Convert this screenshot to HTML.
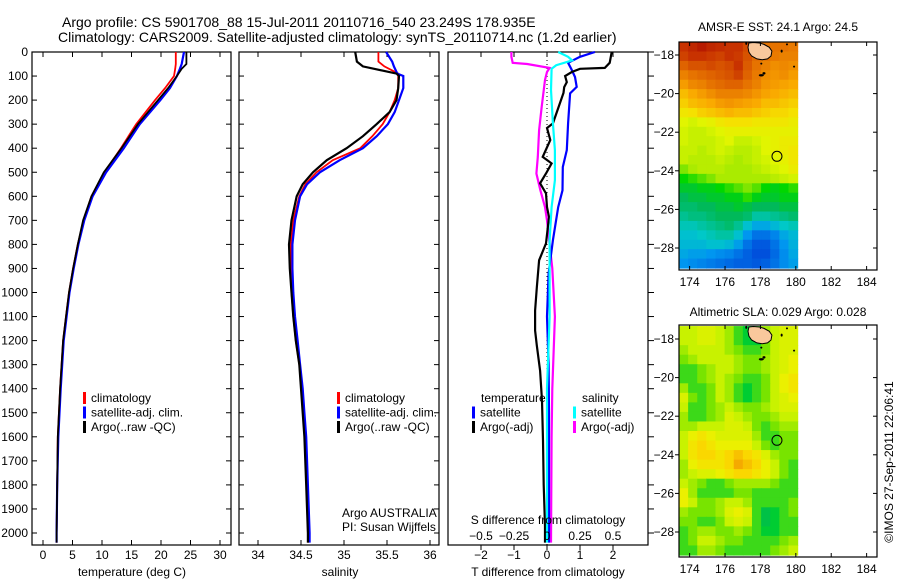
<!DOCTYPE html>
<html><head><meta charset="utf-8"><style>
html,body{margin:0;padding:0;background:#fff;}
svg{display:block;font-family:"Liberation Sans",sans-serif;}
text{font-family:"Liberation Sans",sans-serif;}
</style></head><body>
<svg id="c" width="900" height="580" viewBox="0 0 900 580" xmlns="http://www.w3.org/2000/svg">
<text x="62" y="27" font-size="14">Argo profile: CS 5901708_88 15-Jul-2011 20110716_540 23.249S 178.935E</text>
<text x="58" y="42" font-size="14">Climatology: CARS2009. Satellite-adjusted climatology: synTS_20110714.nc (1.2d earlier)</text>
</svg>
<script>
// ---------- data ----------
const tDepth=[0,50,70,100,150,200,300,400,500,600,700,800,900,1000,1100,1200,1400,1600,1800,2000,2040];
const tArgo=[24.3,24.3,23.5,22.7,21.2,19.5,16.1,13.3,10.3,8.2,6.8,5.9,5.1,4.4,3.9,3.4,2.9,2.5,2.4,2.3,2.3];
const tClim=[22.5,22.5,22.4,22.2,20.7,19.0,15.8,13.2,10.4,8.2,6.9,5.9,5.1,4.4,3.9,3.4,2.9,2.5,2.4,2.3,2.3];
const tSat=[23.9,23.5,23.2,22.7,21.5,19.9,16.4,13.7,10.7,8.4,7.0,6.0,5.2,4.5,4.0,3.5,3.0,2.6,2.4,2.3,2.3];
const sDepth=[0,40,60,90,100,150,200,250,300,350,400,450,500,550,600,700,800,900,1000,1100,1200,1300,1400,1500,1600,1800,2000,2040];
const sArgo=[35.13,35.15,35.22,35.61,35.64,35.63,35.61,35.53,35.38,35.22,35.03,34.80,34.64,34.52,34.45,34.39,34.36,34.37,34.39,34.41,34.44,34.48,34.50,34.52,34.54,34.56,34.58,34.58];
const sClim=[35.40,35.40,35.47,35.63,35.63,35.63,35.59,35.53,35.45,35.33,35.19,34.87,34.68,34.55,34.48,34.41,34.38,34.38,34.39,34.41,34.44,34.48,34.51,34.53,34.55,34.57,34.58,34.58];
const sSat=[35.49,35.56,35.58,35.62,35.69,35.69,35.64,35.59,35.51,35.38,35.22,34.95,34.72,34.57,34.49,34.43,34.40,34.40,34.41,34.43,34.46,34.49,34.52,34.54,34.56,34.58,34.60,34.60];
const dtSatDepth=[0,20,45,75,104,145,172,296,408,478,575,645,783,921,1100,1300,1500,1700,1900,2040];
const dtSat=[1.45,1.0,0.64,0.75,0.85,0.9,0.7,0.64,0.6,0.48,0.47,0.34,0.18,0.05,0.0,0.05,0.06,0.06,0.06,0.06];
const dtArgoDepth=[0,45,66,70,83,100,125,146,170,297,316,366,436,463,505,546,588,645,686,796,866,980,1075,1158,1220,1325,1450,1616,1800,1970,2040];
const dtArgo=[1.96,1.9,1.75,1.0,0.75,0.55,0.6,0.52,0.5,0.18,0.0,0.1,-0.13,0.14,-0.03,-0.21,-0.03,0.0,0.06,-0.03,-0.24,-0.31,-0.36,-0.36,-0.31,-0.21,-0.15,-0.12,-0.1,-0.06,-0.06];
const dsSatDepth=[0,20,35,55,70,158,296,408,533,645,783,921,1100,1400,1700,2040];
const dsSat=[0.085,0.16,0.19,0.07,0.035,0.03,0.045,0.06,0.06,0.035,0.02,0.02,0.02,0.0,0.0,0.0];
const dsArgoDepth=[0,20,45,50,66,83,116,228,325,436,505,575,645,700,900,1100,1400,1600,2040];
const dsArgo=[-0.27,-0.27,-0.26,-0.15,0.02,0.0,-0.015,-0.04,-0.06,-0.07,-0.08,-0.05,-0.015,0.0,0.04,0.06,0.04,0.035,0.03];
const depthTicks=[0,100,200,300,400,500,600,700,800,900,1000,1100,1200,1300,1400,1500,1600,1700,1800,1900,2000];
const tTicks=[0,5,10,15,20,25,30];
const sTicks=[34,34.5,35,35.5,36];
const sTickLabels=["34","34.5","35","35.5","36"];
const dTTicks=[-2,-1,0,1,2];
const dSTicks=[-0.5,-0.25,0,0.25,0.5];
const dSTickLabels=["\u22120.5","\u22120.25","0","0.25","0.5"];
const latTicks=[-18,-20,-22,-24,-26,-28];
const lonTicks=[174,176,178,180,182,184];
const sstGrid=[
[26.8,27,27.2,27,26.9,26.8,26.8,26.5,26.2,26,26,26,25.9],
[26.6,26.8,26.8,26.7,26.6,26.8,26.7,26.4,26.1,26,25.9,25.8,25.8],
[26.2,26.4,26.4,26.5,26.4,26.5,26.8,26.3,26,25.8,25.6,25.7,25.6],
[25.8,26,26.1,26.2,26.3,26.4,26.6,26.2,25.9,25.6,25.5,25.6,25.4],
[25.4,25.7,25.8,26,26.1,26.2,26.2,26,25.8,25.5,25.4,25.3,25.2],
[25,25.2,25.4,25.6,25.8,25.8,25.8,25.7,25.5,25.3,25.2,25.1,25],
[24.8,25,25.1,25.2,25.4,25.5,25.4,25.3,25.2,25,25,24.9,24.8],
[24.5,24.6,24.8,24.9,25,25.1,25,25,24.9,24.8,24.7,24.7,24.6],
[24.2,24.1,24.2,24.3,24.5,24.6,24.6,24.6,24.5,24.5,24.5,24.5,24.4],
[24.1,24.0,24.0,24.1,24.2,24.3,24.3,24.3,24.3,24.3,24.3,24.3,24.3],
[24.1,24.0,24.0,24.0,24.1,24.2,24.0,24.0,24.1,24.2,24.3,24.4,24.4],
[24.0,24.0,23.9,24.0,24.1,24.0,23.9,23.9,24.0,24.2,24.3,24.4,24.5],
[24.0,23.9,23.9,23.9,24.0,23.9,23.8,23.9,24.0,24.1,24.2,24.3,24.5],
[23.7,23.8,23.9,23.9,23.9,23.8,23.8,23.8,23.9,24.0,24.1,24.2,24.4],
[23.4,23.5,23.6,23.7,23.8,23.8,23.8,23.8,23.8,23.8,23.9,24.0,24.1],
[23.2,23.2,23.3,23.3,23.4,23.5,23.6,23.7,23.6,23.4,23.3,23.4,23.5],
[23.0,23.1,23.1,23.2,23.2,23.3,23.3,23.5,23.3,23.2,23.2,23.3,23.3],
[22.9,22.9,23.0,23.0,23.1,23.1,23.2,23.1,23.0,23.0,23.0,23.1,23.1],
[22.7,22.8,22.8,22.9,23.0,23.0,23.0,22.9,22.6,22.6,22.7,22.8,22.9],
[22.5,22.5,22.6,22.7,22.8,22.9,22.7,22.3,22.0,22.0,22.2,22.4,22.5],
[22.3,22.3,22.4,22.5,22.6,22.6,22.3,21.8,21.4,21.4,21.6,22.0,22.2],
[22.2,22.2,22.2,22.3,22.3,22.2,21.9,21.4,21.1,21.1,21.4,21.8,22.1],
[22.0,21.9,21.9,21.8,21.7,21.6,21.4,21.2,21.0,21.0,21.3,21.7,22.0],
[21.8,21.7,21.6,21.5,21.4,21.3,21.2,21.2,21.1,21.2,21.4,21.7,21.9]];
const slaGrid=[
[0.05,0.05,0.06,0.06,0.05,0.04,0.02,0.01,0.02,0.04,0.05,0.06,0.06],
[0.05,0.05,0.06,0.06,0.05,0.04,0.02,0.01,0.01,0.03,0.05,0.06,0.06],
[0.04,0.05,0.05,0.05,0.05,0.04,0.03,0.02,0.02,0.03,0.05,0.06,0.06],
[0.03,0.04,0.05,0.05,0.05,0.05,0.04,0.03,0.03,0.04,0.05,0.06,0.07],
[0.02,0.02,0.03,0.04,0.05,0.05,0.04,0.03,0.03,0.04,0.05,0.06,0.07],
[0.02,0.02,0.03,0.04,0.05,0.04,0.03,0.02,0.02,0.03,0.05,0.07,0.08],
[0.04,0.02,0.02,0.03,0.05,0.04,0.02,0.01,0.02,0.03,0.05,0.07,0.08],
[0.06,0.03,0.02,0.03,0.05,0.04,0.02,0.01,0.02,0.03,0.05,0.06,0.07],
[0.05,0.02,0.02,0.03,0.04,0.05,0.04,0.03,0.03,0.04,0.05,0.06,0.06],
[0.04,0.02,0.02,0.03,0.04,0.06,0.05,0.04,0.03,0.03,0.04,0.05,0.05],
[0.04,0.04,0.05,0.05,0.05,0.06,0.06,0.05,0.03,0.02,0.03,0.04,0.04],
[0.05,0.07,0.08,0.07,0.06,0.06,0.06,0.06,0.04,0.02,0.02,0.03,0.03],
[0.05,0.08,0.09,0.08,0.07,0.07,0.07,0.07,0.05,0.03,0.02,0.03,0.03],
[0.05,0.08,0.09,0.09,0.08,0.09,0.10,0.09,0.08,0.06,0.04,0.03,0.03],
[0.04,0.07,0.08,0.08,0.08,0.09,0.11,0.10,0.09,0.07,0.05,0.03,0.02],
[0.04,0.05,0.06,0.06,0.07,0.08,0.09,0.09,0.08,0.07,0.05,0.03,0.02],
[0.05,0.04,0.03,0.02,0.02,0.03,0.04,0.04,0.04,0.04,0.03,0.02,0.02],
[0.07,0.04,0.02,0.02,0.02,0.02,0.03,0.03,0.02,0.02,0.02,0.02,0.02],
[0.07,0.05,0.03,0.03,0.04,0.05,0.05,0.04,0.02,0.02,0.02,0.02,0.03],
[0.04,0.03,0.03,0.03,0.04,0.06,0.07,0.06,0.02,0.00,0.01,0.02,0.03],
[0.03,0.03,0.02,0.02,0.03,0.05,0.06,0.05,0.02,0.00,0.01,0.02,0.02],
[0.02,0.03,0.04,0.04,0.03,0.03,0.04,0.03,0.02,0.01,0.01,0.02,0.02],
[0.02,0.03,0.05,0.05,0.04,0.03,0.03,0.02,0.02,0.02,0.02,0.03,0.04],
[0.02,0.02,0.04,0.04,0.03,0.02,0.02,0.02,0.02,0.02,0.03,0.04,0.05]];
const argoLon=178.935, argoLat=-23.249;

// ---------- helpers / axes ----------
const NS="http://www.w3.org/2000/svg";
const svg=document.getElementById('c');
function mk(tag,attrs,parent){const e=document.createElementNS(NS,tag);for(const k in attrs)e.setAttribute(k,attrs[k]);(parent||svg).appendChild(e);return e;}
const yD=d=>52+d*0.2405;
const xT=t=>43+t*5.9;
const xS=s=>258+(s-34)*86;
const xdT=t=>547+t*33;
const xdS=s=>547+s*132;
const lonX=lon=>679+(lon-173.4)*17.7;
const latY=(lat,off)=>off+(-18-lat)*19.3;
const GRID_LON0=173.4, GRID_LON1=180.1, GRID_LAT0=-17.33;

function line(x1,y1,x2,y2,p,extra){const e=mk('line',Object.assign({x1,y1,x2,y2,stroke:'#000','stroke-width':1},extra||{}),p);return e;}
function txt(x,y,s,p,extra){const e=mk('text',Object.assign({x,y,'font-size':12},extra||{}),p);e.textContent=s;return e;}

// ---------- profile panels ----------
const panels=[{x0:32,x1:231,name:'temperature-panel'},{x0:239,x1:439,name:'salinity-panel'},{x0:448,x1:648,name:'difference-panel'}];
const Y0=52,Y1=545;
panels.forEach((P,i)=>{
  const g=mk('g',{});
  
  
  P.g=g;
  const r=mk('rect',{x:P.x0,y:Y0,width:P.x1-P.x0,height:Y1-Y0,fill:'none',stroke:'#000','stroke-width':1.2},g);
  
  
  depthTicks.forEach(d=>{
    const y=yD(d);
    if(i<2){line(P.x0,y,P.x0+5,y,g);line(P.x1-5,y,P.x1,y,g);}
    else{line(P.x1,y,P.x1+6,y,g);}
  });
});
depthTicks.forEach(d=>{
  const t=txt(28,yD(d)+4,String(d),svg,{'text-anchor':'end'});
  
  
});
tTicks.forEach(v=>{
  const x=xT(v);
  line(x,Y0,x,Y0+5,panels[0].g);line(x,Y1-5,x,Y1,panels[0].g);
  const t=txt(x,559,String(v),svg,{'text-anchor':'middle'});
  
  
});
sTicks.forEach((v,k)=>{
  const x=xS(v);
  line(x,Y0,x,Y0+5,panels[1].g);line(x,Y1-5,x,Y1,panels[1].g);
  const t=txt(x,559,sTickLabels[k],svg,{'text-anchor':'middle'});
  
  
});
dTTicks.forEach(v=>{
  const x=xdT(v);
  line(x,Y0,x,Y0+5,panels[2].g);line(x,Y1,x,Y1+5,panels[2].g);
  const t=txt(x,559,v<0?'\u2212'+Math.abs(v):String(v),svg,{'text-anchor':'middle'});
  
  
});
dSTicks.forEach((v,k)=>{
  const t=txt(xdS(v),540,dSTickLabels[k],svg,{'text-anchor':'middle'});
  
  
});
const zl=line(xdT(0),Y0,xdT(0),Y1,panels[2].g,{'stroke-dasharray':'1,3'});



function series(depths,vals,xf,color,w,name,parent){
  const pts=depths.map((d,k)=>xf(vals[k]).toFixed(1)+','+yD(d).toFixed(1)).join(' ');
  const e=mk('polyline',{points:pts,fill:'none',stroke:color,'stroke-width':w,'stroke-linejoin':'miter'},parent);
  
  
}
series(tDepth,tClim,xT,'#ff0000',1.8,'temperature-climatology-line',panels[0].g);
series(tDepth,tSat,xT,'#0000ff',2.2,'temperature-satellite-line',panels[0].g);
series(tDepth,tArgo,xT,'#000',1.8,'temperature-argo-line',panels[0].g);
series(sDepth,sClim,xS,'#ff0000',1.8,'salinity-climatology-line',panels[1].g);
series(sDepth,sSat,xS,'#0000ff',2.2,'salinity-satellite-line',panels[1].g);
series(sDepth,sArgo,xS,'#000',2.2,'salinity-argo-line',panels[1].g);
series(dsArgoDepth,dsArgo,xdS,'#ff00ff',2.2,'salinity-argo-diff-line',panels[2].g);
series(dtSatDepth,dtSat,xdT,'#0000ff',2.2,'temperature-satellite-diff-line',panels[2].g);
series(dtArgoDepth,dtArgo,xdT,'#000',2.2,'temperature-argo-diff-line',panels[2].g);
series(dsSatDepth,dsSat,xdS,'#00ffff',2.2,'salinity-satellite-diff-line',panels[2].g);

function legend(x,y,color,label,name){
  const g=mk('g',{});
  
  
  mk('rect',{x:x,y:y-10,width:3,height:12,fill:color},g);
  txt(x+8,y,label,g);
}
[[83,'#ff0000','climatology'],[83,'#0000ff','satellite-adj. clim.'],[83,'#000','Argo(..raw -QC)']].forEach((L,k)=>legend(L[0],402+k*14.5,L[1],L[2],'temperature-legend-entry'));
[[337,'#ff0000','climatology'],[337,'#0000ff','satellite-adj. clim.'],[337,'#000','Argo(..raw -QC)']].forEach((L,k)=>legend(L[0],402+k*14.5,L[1],L[2],'salinity-legend-entry'));
txt(481,402,'temperature');
txt(582,402,'salinity');
legend(472,416.5,'#0000ff','satellite','legend-temperature-satellite');
legend(472,431,'#000','Argo(-adj)','legend-temperature-argo');
legend(573,416.5,'#00ffff','satellite','legend-salinity-satellite');
legend(573,431,'#ff00ff','Argo(-adj)','legend-salinity-argo');

txt(342,517,'Argo AUSTRALIA');
txt(342,531,'PI: Susan Wijffels');
txt(548,524,'S difference from climatology',svg,{'text-anchor':'middle'});
txt(132,576,'temperature (deg C)',svg,{'text-anchor':'middle'});
txt(340,576,'salinity',svg,{'text-anchor':'middle'});
txt(548,576,'T difference from climatology',svg,{'text-anchor':'middle'});

// ---------- maps ----------
function lerpStops(stops,v){
  if(v<=stops[0][0])return stops[0][1];
  for(let i=1;i<stops.length;i++){if(v<=stops[i][0]){const a=stops[i-1],b=stops[i];const f=(v-a[0])/(b[0]-a[0]);return a[1].map((c,k)=>Math.round(c+(b[1][k]-c)*f));}}
  return stops[stops.length-1][1];
}
const sstStops=[[21.0,[0,80,220]],[21.8,[0,150,240]],[22.4,[0,200,200]],[23.0,[0,185,90]],[23.4,[0,215,0]],[23.8,[170,235,0]],[24.2,[225,245,0]],[24.6,[245,225,0]],[25.2,[250,170,0]],[26.0,[230,115,0]],[26.8,[200,50,0]],[27.5,[170,10,0]]];
const slaStops=[[-0.01,[0,180,90]],[0.01,[0,205,50]],[0.03,[120,228,0]],[0.05,[200,242,0]],[0.07,[235,240,0]],[0.09,[250,215,0]],[0.11,[245,170,0]]];
function drawMap(off,top,bottom,grid,stops,title,name,titleY){
  const g=mk('g',{});
  
  
  const rows=grid.length, cols=grid[0].length;
  const dLon=(GRID_LON1-GRID_LON0)/cols;
  const dataBottom=bottom-2;
  const y0=latY(GRID_LAT0,off);
  const dy=(dataBottom-y0)/rows;
  grid.forEach((row,r)=>row.forEach((v,c)=>{
    const x=lonX(GRID_LON0+c*dLon), x2=lonX(GRID_LON0+(c+1)*dLon);
    const c3=lerpStops(stops,v);
    const cell=mk('rect',{x:x.toFixed(2),y:(y0+r*dy).toFixed(2),width:(x2-x+0.6).toFixed(2),height:(dy+0.6).toFixed(2),fill:`rgb(${c3[0]},${c3[1]},${c3[2]})`},g);
    
    
  }));
  const land=[[177.35,-17.38],[177.6,-17.35],[177.95,-17.38],[178.2,-17.45],[178.5,-17.6],[178.65,-17.8],[178.6,-18.05],[178.4,-18.2],[178.1,-18.25],[177.8,-18.2],[177.5,-18.05],[177.35,-17.85],[177.3,-17.6]];
  const lp=mk('polygon',{points:land.map(p=>lonX(p[0]).toFixed(1)+','+latY(p[1],off).toFixed(1)).join(' '),fill:'#f9c89c',stroke:'#000','stroke-width':1},g);
  
  
  [[178.05,-19.05,2.5,1.2],[178.2,-18.95,1.5,1.2],[179.2,-17.8,1,1.5],[179.9,-18.6,1,1],[179.5,-17.45,1,1],[177.2,-17.4,1,1.5],[178.05,-18.45,1,1]].forEach(p=>{
    const e=mk('ellipse',{cx:lonX(p[0]),cy:latY(p[1],off),rx:p[2],ry:p[3],fill:'#000'},g);
    
    
  });
  const fr=mk('rect',{x:679,y:top,width:198,height:bottom-top,fill:'none',stroke:'#000','stroke-width':1.2},g);
  
  
  latTicks.forEach(l=>{
    const y=latY(l,off);
    line(675,y,679,y,g);line(873,y,877,y,g);
    const t=txt(674,y+4,'\u2212'+Math.abs(l),g,{'text-anchor':'end'});
    
    
  });
  lonTicks.forEach(l=>{
    const x=lonX(l);
    line(x,top,x,top+4,g);line(x,bottom-4,x,bottom,g);
    const t=txt(x,bottom+16,String(l),g,{'text-anchor':'middle'});
    
    
  });
  const ci=mk('circle',{cx:lonX(argoLon),cy:latY(argoLat,off),r:5,fill:'none',stroke:'#000','stroke-width':1},g);
  
  
  const tt=txt(778,titleY,title,g,{'text-anchor':'middle'});
  
  
}
drawMap(55,42,270,sstGrid,sstStops,'AMSR-E SST: 24.1 Argo: 24.5','sst-map',31);
drawMap(339,325,557,slaGrid,slaStops,'Altimetric SLA: 0.029 Argo: 0.028','sla-map',316);
const cr=txt(0,0,'\u00A9IMOS 27-Sep-2011 22:06:41',svg,{'text-anchor':'middle',transform:'translate(893,462) rotate(-90)'});


</script>
</body></html>
